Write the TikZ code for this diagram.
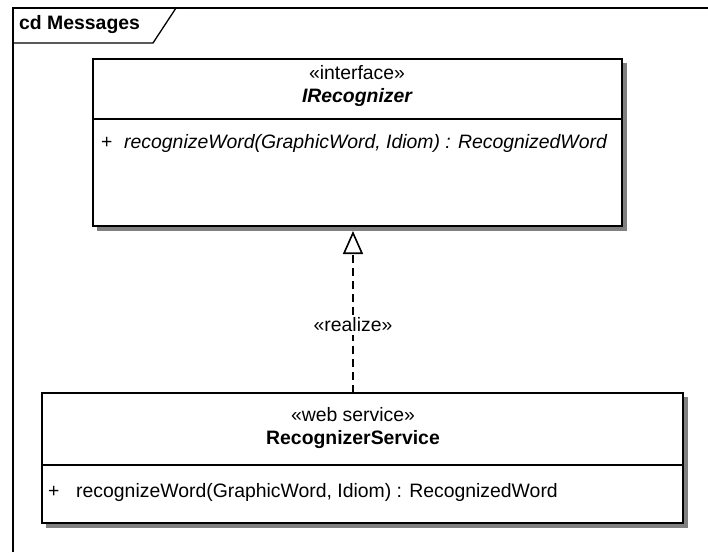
\documentclass[tikz,border=0pt]{standalone}
\usepackage{fontspec}
\setmainfont{Liberation Sans}
\usetikzlibrary{arrows.meta}
\tikzset{
  frameline/.style={line width=1.3pt, draw=black},
  classbox/.style={draw=black, line width=2pt, fill=white, rectangle, inner sep=0pt},
  boxshadow/.style={fill=black!50},
  umltext/.style={inner sep=0pt, font=\fontsize{19.4}{22}\selectfont},
  realizes/.style={line width=2pt, dash pattern=on 8pt off 5pt,
    -{Triangle[open, length=23pt, width=20pt, line width=1.6pt]}}
}
\begin{document}
\begin{tikzpicture}[x=1pt, y=-1pt]
\useasboundingbox (0,0) rectangle (708,552);
\fill[white] (0,0) rectangle (708,552);

% diagram frame with its name tab
\draw[frameline] (13,552) -- (13,8) -- (708,8);
\draw[frameline] (13,43) -- (153,43) -- (176,8);
\node[umltext, anchor=west, font=\fontsize{19.4}{22}\selectfont\bfseries] (title) at (19,25) {cd Messages};

% interface IRecognizer
\fill[boxshadow] (97,63) rectangle (627,231);
\node[classbox, minimum width=529pt, minimum height=167pt] (iface) at (357.5,142.5) {};
\draw[line width=2pt] (93,119) -- (622,119);
\node[umltext] (ifacest) at (357,73) {«interface»};
\node[umltext, font=\fontsize{19.4}{22}\selectfont\bfseries\itshape] (ifacename) at (357,97) {IRecognizer};
\node[umltext, anchor=west] (ifacevis) at (101,143) {+};
\node[umltext, anchor=west, font=\fontsize{19.4}{22}\selectfont\itshape] (ifaceop) at (124,143) {recognizeWord(GraphicWord, Idiom) : RecognizedWord};

% web service RecognizerService
\fill[boxshadow] (46,397) rectangle (688,528);
\node[classbox, minimum width=641pt, minimum height=130pt] (svc) at (362.5,458) {};
\draw[line width=2pt] (42,465) -- (683,465);
\node[umltext] (svcst) at (353,415) {«web service»};
\node[umltext, font=\fontsize{19.4}{22}\selectfont\bfseries] (svcname) at (353,440) {RecognizerService};
\node[umltext, anchor=west] (svcvis) at (48,492) {+};
\node[umltext, anchor=west] (svcop) at (76,492) {recognizeWord(GraphicWord, Idiom) : RecognizedWord};

% realization
\coordinate (rtop) at (353,231);
\coordinate (rbot) at (353,393);
\draw[realizes] (rbot) -- (rtop);
\node[umltext, fill=white, inner sep=3pt] (rlabel) at (353,325) {«realize»};
\end{tikzpicture}
\end{document}
